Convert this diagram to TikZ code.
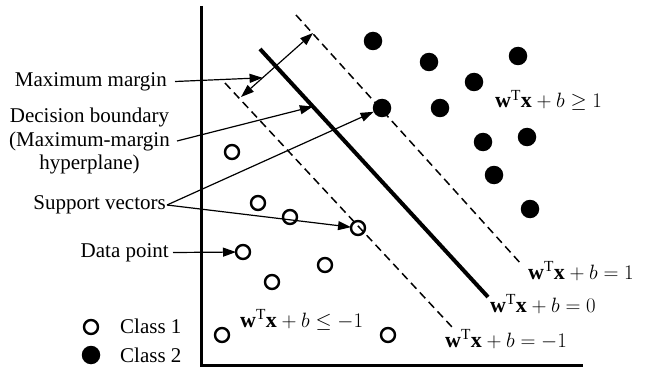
\documentclass[tikz,border=0pt]{standalone}
\usepackage{fontspec}
\setmainfont{Liberation Serif}
\usetikzlibrary{arrows.meta,calc}
\tikzset{
  opencirc/.style={circle,draw=black,line width=2.4pt,minimum size=14pt,inner sep=0pt,outer sep=0pt},
  fullcirc/.style={circle,fill=black,minimum size=18.5pt,inner sep=0pt,outer sep=0pt},
  lbl/.style={font=\fontsize{21}{23.5}\selectfont,inner sep=0pt},
  mlbl/.style={font=\fontsize{22}{24}\selectfont,inner sep=0pt,anchor=base west},
  arr/.style={line width=1.2pt,-{Triangle[length=13pt,width=9pt]}},
  darr/.style={line width=1.2pt,{Triangle[length=13pt,width=9pt]}-{Triangle[length=13pt,width=9pt]}},
  margin/.style={line width=1.5pt,dash pattern=on 8pt off 5pt},
  boundary/.style={line width=4pt},
  axis/.style={line width=3pt}
}
\begin{document}
\begin{tikzpicture}[x=1pt,y=-1pt]
\useasboundingbox (0,0) rectangle (646,369);
% axes
\coordinate (ytop) at (201,6);
\coordinate (orig) at (201,365);
\coordinate (xend) at (583,365);
\draw[axis] (ytop) -- (orig) -- (xend);
% lines
\coordinate (s1) at (260,49);
\coordinate (s2) at (488,297);
\coordinate (u1) at (296,15);
\coordinate (u2) at (522,265);
\coordinate (l1) at (225,83);
\coordinate (l2) at (452,327);
\draw[boundary] (s1) -- (s2);
\draw[margin] (u1) -- (u2);
\draw[margin] (l1) -- (l2);
% margin arrow
\coordinate (ma1) at (241,97);
\coordinate (ma2) at (313,33);
\draw[darr] (ma1) -- (ma2);
\coordinate (mmt) at ($(ma1)!0.30!(ma2)$);
\coordinate (dbt) at ($(s1)!0.232!(s2)$);
% class 2
\node[fullcirc] (f1) at (373,41) {};
\node[fullcirc] (f2) at (429,62) {};
\node[fullcirc] (f3) at (518,56) {};
\node[fullcirc] (f4) at (474,82) {};
\node[fullcirc] (f5) at (382,108) {};
\node[fullcirc] (f6) at (440,108) {};
\node[fullcirc] (f7) at (483,142) {};
\node[fullcirc] (f8) at (527,137) {};
\node[fullcirc] (f9) at (494,175) {};
\node[fullcirc] (f10) at (530,209) {};
% class 1
\node[opencirc] (o1) at (232,152) {};
\node[opencirc] (o2) at (258,203) {};
\node[opencirc] (o3) at (290,217) {};
\node[opencirc] (o4) at (243,252) {};
\node[opencirc] (o5) at (272,282) {};
\node[opencirc] (o6) at (325,265) {};
\node[opencirc] (o7) at (358,228) {};
\node[opencirc] (o8) at (388,335) {};
\node[opencirc] (o9) at (222,335) {};
% left labels
\node[lbl,anchor=east,inner xsep=8pt] (mm) at (175,81.5) {Maximum margin};
\node[lbl,anchor=east,align=center,inner xsep=7pt] (db) at (177,141) {Decision boundary\\(Maximum-margin\\hyperplane)};
\node[lbl,anchor=east,inner xsep=1pt] (sv) at (167,205) {Support vectors};
\node[lbl,anchor=east,inner xsep=4pt] (dp) at (173,252.5) {Data point};
\draw[arr] (mm.east) -- (mmt);
\draw[arr] (db.east) -- (dbt);
\draw[arr] (sv.east) -- (f5);
\draw[arr] (sv.east) -- (o7);
\draw[arr] (dp.east) -- (o4);
% legend
\node[opencirc] (lc1) at (91,327) {};
\node[fullcirc] (lc2) at (91,355) {};
\node[lbl,anchor=base west] (c1) at (120,333) {Class 1};
\node[lbl,anchor=base west] (c2) at (120,362) {Class 2};
% equations
\node[mlbl] (geq) at (495,108) {$\mathbf{w}^{\mathrm{T}}\mathbf{x}+b\geq 1$};
\node[mlbl] (eq1) at (528,279) {$\mathbf{w}^{\mathrm{T}}\mathbf{x}+b=1$};
\node[mlbl] (eq0) at (490,312) {$\mathbf{w}^{\mathrm{T}}\mathbf{x}+b=0$};
\node[mlbl] (eqm) at (445,347) {$\mathbf{w}^{\mathrm{T}}\mathbf{x}+b=-1$};
\node[mlbl] (leq) at (240,327) {$\mathbf{w}^{\mathrm{T}}\mathbf{x}+b\leq -1$};
\end{tikzpicture}
\end{document}
